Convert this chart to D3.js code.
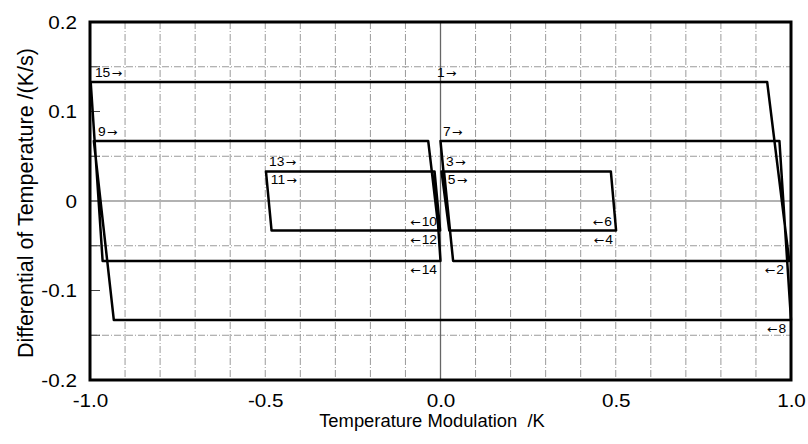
<!DOCTYPE html>
<html>
<head>
<meta charset="utf-8">
<script src="https://cdn.jsdelivr.net/npm/d3@7"></script>
<style>
  body { margin: 0; background: #fff; }
  text { font-family: "Liberation Sans", Arial, sans-serif; fill: #000; }
  .arrow { font-family: "DejaVu Sans", sans-serif; }
</style>
</head>
<body>
<div id="chart"></div>
<script>
// segment data: rate (K/s) and start / end temperature (K)
const segIds   = [1, 2, 3, 4, 5, 6, 7, 8, 9, 10, 11, 12, 13, 14, 15];
const segRate  = [0.133, -0.067, 0.033, -0.033, 0.033, -0.033, 0.067, -0.133, 0.067, -0.033, 0.033, -0.033, 0.033, -0.067, 0.133];
const segStart = [0.0, 0.995, 0.010, 0.501, 0.003, 0.501, 0.0, 1.0, -0.989, -0.005, -0.498, -0.001, -0.498, 0.0, -0.998];
const segEnd   = [0.932, 0.036, 0.486, 0.025, 0.486, 0.025, 0.967, -0.932, -0.035, -0.482, -0.017, -0.482, -0.017, -0.964, 0.932];

// where the numbered arrows sit (K) and whether above the line
const labelX     = [-0.01, 0.98, 0.016, 0.492, 0.021, 0.489, 0.007, 0.986, -0.977, -0.01, -0.484, -0.01, -0.489, -0.01, -0.986];
const labelAbove = [true, false, true, false, false, true, true, false, true, true, false, false, true, false, true];

const xTickVals   = [-1, -0.5, 0, 0.5, 1];
const xTickLabels = ["-1.0", "-0.5", "0.0", "0.5", "1.0"];
const yTickVals   = [-0.2, -0.1, 0, 0.1, 0.2];
const yTickLabels = ["-0.2", "-0.1", "0", "0.1", "0.2"];
const yGridVals   = [-0.15, -0.05, 0.05, 0.15];

const svgWidth = 808;
const svgHeight = 444;
const margin = { top: 22, right: 17, bottom: 64, left: 90 };
const chartWidth = svgWidth - margin.left - margin.right;
const chartHeight = svgHeight - margin.top - margin.bottom;
const stretch = 1.15;

const svg = d3.select("#chart")
  .append("svg")
  .attr("width", svgWidth)
  .attr("height", svgHeight);

svg.append("rect").attr("width", svgWidth).attr("height", svgHeight).attr("fill", "#fff");

const chartGroup = svg.append("g")
  .attr("transform", `translate(${margin.left},${margin.top})`);

const xScale = d3.scaleLinear().domain([-1, 1]).range([0, chartWidth]);
const yScale = d3.scaleLinear().domain([-0.2, 0.2]).range([chartHeight, 0]);

// grid
const xGrid = xScale.ticks(20).filter(v => Math.abs(v) > 1e-9 && Math.abs(v) < 0.999);
chartGroup.append("g")
  .selectAll("line")
  .data(xGrid)
  .enter()
  .append("line")
  .attr("x1", d => xScale(d)).attr("x2", d => xScale(d))
  .attr("y1", 0).attr("y2", chartHeight)
  .attr("stroke", "#9a9a9a")
  .attr("stroke-width", 1)
  .attr("stroke-dasharray", "7,2,1,2");

chartGroup.append("g")
  .selectAll("line")
  .data(yGridVals)
  .enter()
  .append("line")
  .attr("x1", 0).attr("x2", chartWidth)
  .attr("y1", d => yScale(d)).attr("y2", d => yScale(d))
  .attr("stroke", "#9a9a9a")
  .attr("stroke-width", 1)
  .attr("stroke-dasharray", "7,2,1,2");

// zero lines
chartGroup.append("line")
  .attr("x1", 0).attr("x2", chartWidth)
  .attr("y1", yScale(0)).attr("y2", yScale(0))
  .attr("stroke", "#999").attr("stroke-width", 1.5);
chartGroup.append("line")
  .attr("x1", xScale(0)).attr("x2", xScale(0))
  .attr("y1", 0).attr("y2", chartHeight)
  .attr("stroke", "#666").attr("stroke-width", 1.3);

// inner ticks on the left side
const yMinor = yScale.ticks(8).filter(v => Math.abs(v) < 0.199);
chartGroup.append("g")
  .selectAll("line")
  .data(yMinor)
  .enter()
  .append("line")
  .attr("x1", 0).attr("x2", 10)
  .attr("y1", d => yScale(d)).attr("y2", d => yScale(d))
  .attr("stroke", "#444").attr("stroke-width", 1);

// the trace
const pts = [];
segIds.forEach((id, i) => {
  pts.push([segStart[i], segRate[i]]);
  pts.push([segEnd[i], segRate[i]]);
});
const line = d3.line().x(d => xScale(d[0])).y(d => yScale(d[1]));
chartGroup.append("path")
  .datum(pts)
  .attr("d", line)
  .attr("fill", "none")
  .attr("stroke", "#000")
  .attr("stroke-width", 2.5)
  .attr("stroke-linejoin", "round");

// numbered arrows
const labels = chartGroup.append("g")
  .selectAll("text")
  .data(segIds)
  .enter()
  .append("text")
  .attr("transform", (d, i) => {
    const ty = yScale(segRate[i]) + (labelAbove[i] ? -5 : 13);
    return `translate(${xScale(labelX[i])},${ty}) scale(${stretch},1)`;
  })
  .attr("text-anchor", (d, i) => segRate[i] > 0 ? "start" : "end")
  .attr("font-size", "12px");

labels.each(function(d, i) {
  const t = d3.select(this);
  if (segRate[i] > 0) {
    t.append("tspan").text(d);
    t.append("tspan").attr("class", "arrow").attr("font-size", "11px").attr("dx", 1).text("\u2192");
  } else {
    t.append("tspan").attr("class", "arrow").attr("font-size", "11px").text("\u2190");
    t.append("tspan").attr("dx", 1).text(d);
  }
});

// axes
const bottomAxis = d3.axisBottom(xScale)
  .tickValues(xTickVals)
  .tickFormat((d, i) => xTickLabels[i])
  .tickSize(0)
  .tickPadding(0);
const xAxisG = chartGroup.append("g")
  .attr("transform", `translate(0,${chartHeight})`)
  .call(bottomAxis);
xAxisG.select(".domain").remove();
xAxisG.selectAll("text")
  .attr("y", 0).attr("dy", 0)
  .attr("font-size", "18px")
  .attr("font-family", "Liberation Sans, Arial, sans-serif")
  .attr("transform", `translate(0,27) scale(${stretch},1)`);

const leftAxis = d3.axisLeft(yScale)
  .tickValues(yTickVals)
  .tickFormat((d, i) => yTickLabels[i])
  .tickSize(0)
  .tickPadding(0);
const yAxisG = chartGroup.append("g").call(leftAxis);
yAxisG.select(".domain").remove();
yAxisG.selectAll("text")
  .attr("x", 0).attr("dy", "0.35em")
  .attr("font-size", "18px")
  .attr("font-family", "Liberation Sans, Arial, sans-serif")
  .attr("transform", `translate(-13,0) scale(${stretch},1)`);

// frame
chartGroup.append("rect")
  .attr("width", chartWidth).attr("height", chartHeight)
  .attr("fill", "none").attr("stroke", "#000").attr("stroke-width", 3);

// axis titles
svg.append("text")
  .attr("transform", `translate(432,427) scale(1.05,1)`)
  .attr("text-anchor", "middle")
  .attr("font-size", "17.5px")
  .attr("xml:space", "preserve")
  .text("Temperature Modulation  /K");

svg.append("text")
  .attr("transform", `translate(33,203) rotate(-90)`)
  .attr("text-anchor", "middle")
  .attr("font-size", "21.5px")
  .attr("xml:space", "preserve")
  .text("Differential of Temperature /(K/s)");
</script>
</body>
</html>
